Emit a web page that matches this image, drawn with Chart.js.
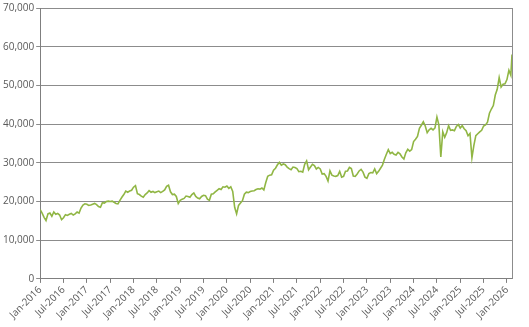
<!DOCTYPE html>
<html>
<head>
<meta charset="utf-8">
<script src="https://cdn.jsdelivr.net/npm/chart.js@4.4.1/dist/chart.umd.min.js"></script>
<style>
  html, body { margin: 0; padding: 0; background: #fff; }
  #wrap { width: 529px; height: 327px; }
</style>
</head>
<body>
<div id="wrap"><canvas id="chart"></canvas></div>
<script>
// half-month readings, Jan 2016 .. Feb 2026
const values2016 = [17900, 17000, 15900, 15100, 16800, 17000, 16200, 17300, 16700, 16900, 16500, 15300,
                    15800, 16600, 16400, 16700, 16900, 16500, 16800, 17300, 17000, 18300, 19100, 19400];
const values2017 = [19300, 19000, 19100, 19300, 19500, 19200, 18700, 18500, 19700, 19600, 20000, 20100,
                    20000, 20100, 19800, 19500, 19400, 20300, 21100, 21800, 22700, 22400, 22700, 22900];
const values2018 = [23700, 24100, 22000, 21800, 21400, 21100, 21800, 22200, 22800, 22400, 22600, 22300,
                    22500, 22700, 22300, 22600, 23000, 23900, 24200, 22500, 21800, 21900, 21300, 19500];
const values2019 = [20300, 20600, 20800, 21400, 21300, 21100, 21800, 22200, 21300, 20900, 20700, 21300,
                    21600, 21500, 20600, 20300, 21900, 22000, 22500, 22900, 23300, 23100, 23800, 23700];
const values2020 = [24000, 23400, 23800, 22600, 18500, 16800, 19000, 19600, 20200, 21900, 22400, 22300,
                    22600, 22700, 22800, 23100, 23300, 23200, 23500, 23000, 24900, 26500, 26800, 26900];
const values2021 = [28100, 28600, 29500, 30100, 29400, 29700, 29500, 28900, 28500, 28200, 28900, 28800,
                    28500, 27700, 27800, 27600, 29600, 30500, 28200, 28900, 29600, 29300, 28400, 28800];
const values2022 = [28400, 27100, 27200, 26500, 25300, 27900, 26800, 26600, 26500, 26700, 27800, 26300,
                    26500, 27800, 27900, 28800, 28500, 26600, 26500, 27100, 27900, 28300, 27600, 26300];
const values2023 = [26000, 27200, 27500, 27400, 28400, 27200, 27800, 28600, 29400, 30900, 32200, 33400,
                    32400, 32700, 32200, 32000, 32700, 32300, 31500, 31000, 32600, 33500, 33000, 33400];
const values2024 = [35500, 36100, 36800, 38900, 39700, 40600, 39500, 37800, 38500, 38900, 38500, 39000,
                    41800, 39800, 31500, 38000, 36600, 37800, 39600, 38400, 38500, 38300, 39400, 39900];
const values2025 = [39000, 39600, 38800, 38300, 37000, 37600, 31300, 34500, 37000, 37500, 38000, 38400,
                    39500, 39800, 40500, 42800, 43900, 44800, 47500, 49000, 52000, 49600, 50300, 50400];
const values2026 = [51500, 53900, 52600, 58000];

const seriesValues = [].concat(values2016, values2017, values2018, values2019, values2020,
  values2021, values2022, values2023, values2024, values2025, values2026);

// months since Jan 2016
const monthIndex = seriesValues.map((v, i) => i * 0.5);
monthIndex[monthIndex.length - 1] = 121.3;

const xTickLabels = [
  'Jan-2016', 'Jul-2016', 'Jan-2017', 'Jul-2017', 'Jan-2018', 'Jul-2018', 'Jan-2019',
  'Jul-2019', 'Jan-2020', 'Jul-2020', 'Jan-2021', 'Jul-2021', 'Jan-2022', 'Jul-2022',
  'Jan-2023', 'Jul-2023', 'Jan-2024', 'Jul-2024', 'Jan-2025', 'Jul-2025', 'Jan-2026'
];
const yTicks = [0, 10000, 20000, 30000, 40000, 50000, 60000, 70000];

const points = seriesValues.map((v, i) => ({ x: monthIndex[i], y: v }));

// right-hand frame line
const rightBorder = {
  id: 'rightBorder',
  afterDraw(chart) {
    const { ctx, chartArea } = chart;
    ctx.save();
    ctx.strokeStyle = '#8c8c8c';
    ctx.lineWidth = 1;
    ctx.beginPath();
    ctx.moveTo(Math.round(chartArea.right) + 0.5, chartArea.top);
    ctx.lineTo(Math.round(chartArea.right) + 0.5, chartArea.bottom);
    ctx.stroke();
    ctx.restore();
  }
};

new Chart(document.getElementById('chart'), {
  type: 'line',
  data: {
    datasets: [{
      data: points,
      borderColor: '#90b644',
      borderWidth: 1.6,
      pointRadius: 0,
      tension: 0,
      fill: false
    }]
  },
  options: {
    responsive: true,
    maintainAspectRatio: false,
    animation: false,
    layout: { padding: { top: -2, right: 17, left: 1, bottom: 5 } },
    plugins: {
      legend: { display: false },
      tooltip: { enabled: false }
    },
    scales: {
      x: {
        type: 'linear',
        min: 0,
        max: 121.3,
        grid: {
          drawOnChartArea: false,
          drawTicks: true,
          tickLength: 4,
          color: '#7f7f7f'
        },
        border: { color: '#7f7f7f', width: 1 },
        ticks: {
          stepSize: 6,
          includeBounds: false,
          autoSkip: false,
          maxRotation: 45,
          minRotation: 45,
          padding: 1,
          color: '#595959',
          font: { family: 'Open Sans', size: 10 },
          callback: (value) => xTickLabels[Math.round(value / 6)]
        }
      },
      y: {
        min: 0,
        max: 70000,
        afterBuildTicks: (axis) => { axis.ticks = yTicks.map(v => ({ value: v })); },
        grid: {
          color: '#8c8c8c',
          lineWidth: 1,
          tickLength: 4
        },
        border: { color: '#7f7f7f', width: 1 },
        ticks: {
          padding: 2,
          color: '#595959',
          font: { family: 'Open Sans', size: 10 },
          callback: (value) => value.toLocaleString('en-US')
        }
      }
    }
  },
  plugins: [rightBorder]
});
</script>
</body>
</html>
